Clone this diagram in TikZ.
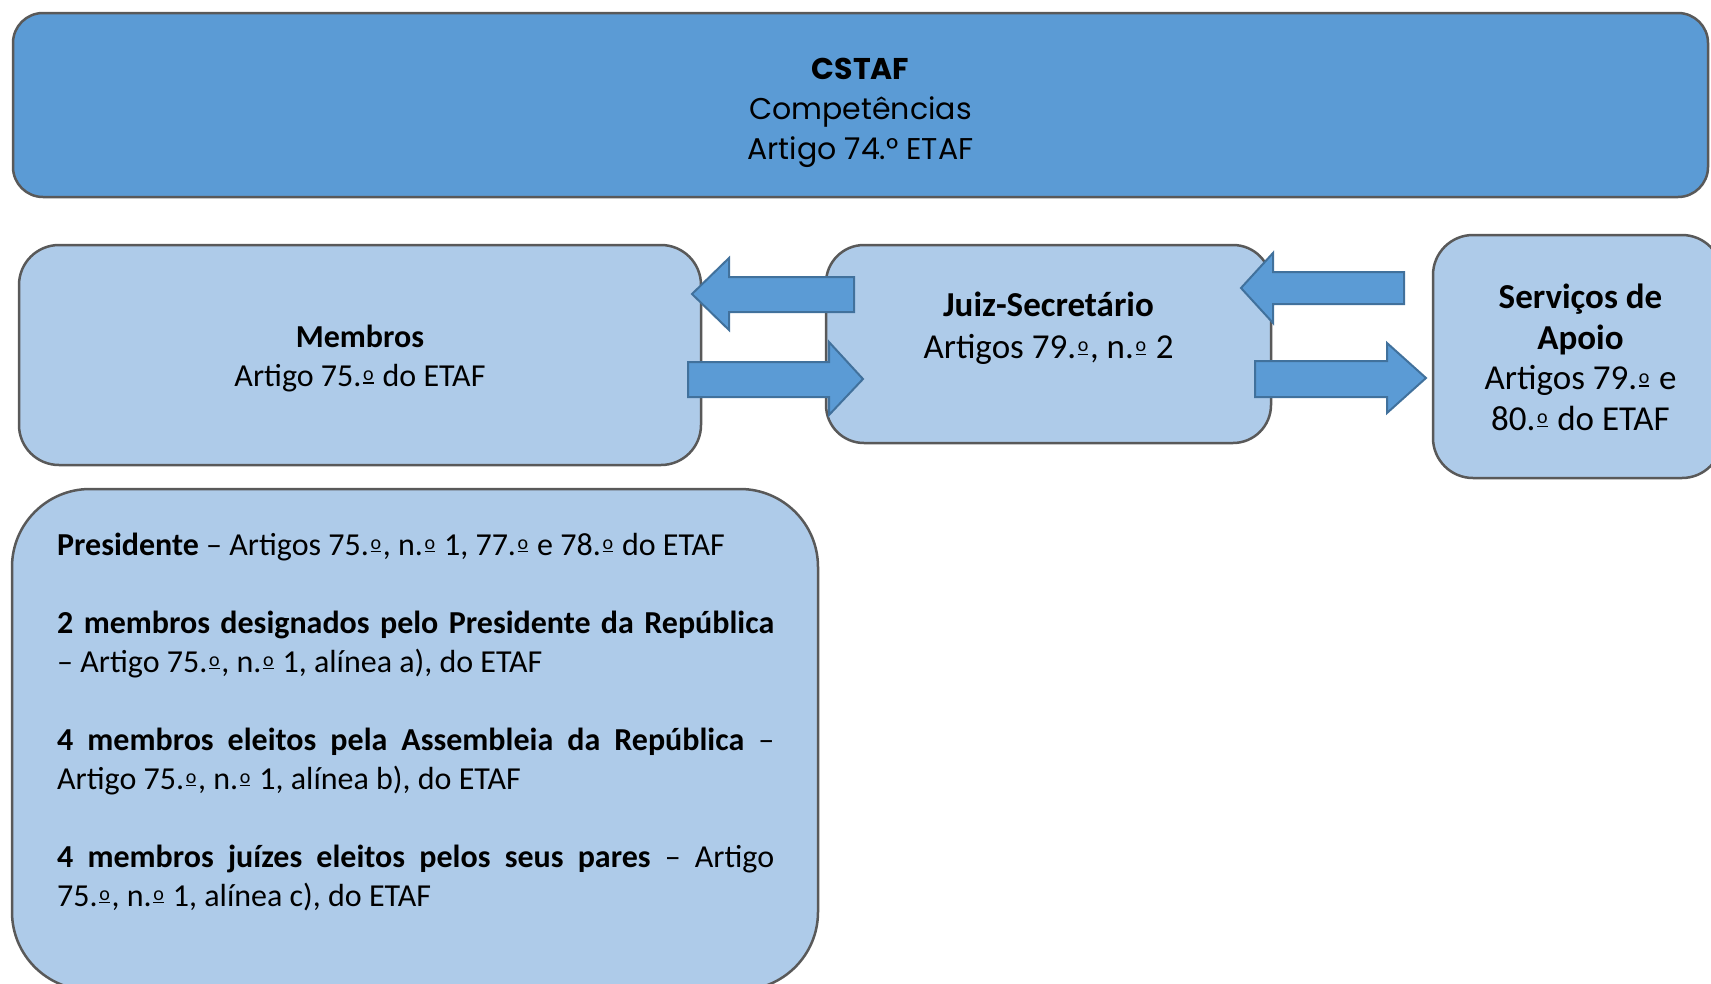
\documentclass[tikz,border=0pt]{standalone}
\usepackage{fontspec}
\setmainfont{Carlito}
\newfontfamily\headfont{Poppins}
\definecolor{darkbox}{HTML}{5B9BD5}
\definecolor{lightbox}{HTML}{AECBE9}
\definecolor{boxline}{HTML}{595959}
\definecolor{arrowline}{HTML}{41719C}
% ordinal sublinhado
\newcommand\ordo{\kern1.7pt\raisebox{3.3pt}{\vbox{\hbox{\fontsize{20}{20}\selectfont o}\kern1.8pt\hrule height 1.4pt}}\kern1.7pt}
\begin{document}
\begin{tikzpicture}[x=1pt,y=-1pt,line join=round,
	box/.style={draw=boxline,line width=2.5pt,fill=lightbox,rounded corners=40pt,inner sep=0pt},
	blockarrow/.style={draw=arrowline,line width=2pt,fill=darkbox,line join=miter},
	txt/.style={font=\fontsize{32}{39}\selectfont,align=center},
	bigtxt/.style={font=\fontsize{35}{42}\selectfont,align=center}]
	\useasboundingbox (0,0) rectangle (1711,983);
	\clip (0,0) rectangle (1711,983);
	% caixas
	\node[box,fill=darkbox,rounded corners=30pt,minimum width=1695pt,minimum height=184pt] (cstaf) at (860.5,105) {};
	\node[font=\headfont\fontsize{30}{40}\selectfont,align=center] (cstaftxt) at ([yshift=-8pt]cstaf.center) {\textbf{CSTAF}\\Competências\\Artigo 74.° ETAF};
	\node[box,minimum width=682pt,minimum height=220pt] (membros) at (360,355) {};
	\node[txt] (membrostxt) at ([yshift=-4pt]membros.center) {\textbf{Membros}\\Artigo 75.\ordo{} do ETAF};
	\node[box,rounded corners=38pt,minimum width=445pt,minimum height=198pt] (juiz) at (1048.5,344) {};
	\node[bigtxt] (juiztxt) at ([yshift=16pt]juiz.center) {\textbf{Juiz-Secretário}\\Artigos 79.\ordo, n.\ordo{} 2};
	\node[box,minimum width=289pt,minimum height=243pt] (servicos) at (1577.5,356.5) {};
	\node[bigtxt,font=\fontsize{35}{40.5}\selectfont] (servicostxt) at ([xshift=3pt,yshift=-1pt]servicos.center) {\textbf{Serviços de}\\\textbf{Apoio}\\Artigos 79.\ordo{} e\\80.\ordo{} do ETAF};
	\node[box,rounded corners=78pt,minimum width=806pt,minimum height=501pt] (composicao) at (415,739.5) {};
	\node[anchor=north west,inner sep=0pt,text width=717pt,align=justify,font=\fontsize{32}{39}\selectfont] (lista) at (57,533) {%
		\textbf{Presidente} – Artigos 75.\ordo, n.\ordo{} 1, 77.\ordo{} e 78.\ordo{} do ETAF\par\vspace{39pt}
		\textbf{2 membros designados pelo Presidente da República}\linebreak – Artigo 75.\ordo, n.\ordo{} 1, alínea a), do ETAF\par\vspace{39pt}
		\textbf{4 membros eleitos pela Assembleia da República} –\linebreak Artigo 75.\ordo, n.\ordo{} 1, alínea b), do ETAF\par\vspace{39pt}
		\textbf{4 membros juízes eleitos pelos seus pares} – Artigo\linebreak 75.\ordo, n.\ordo{} 1, alínea c), do ETAF};
	% setas
	\draw[blockarrow] (692,294)--(729,258)--(729,277)--(854,277)--(854,312)--(729,312)--(729,330)--cycle;
	\draw[blockarrow] (688,362)--(829,362)--(829,342)--(863,379)--(829,415)--(829,397)--(688,397)--cycle;
	\draw[blockarrow] (1241,288)--(1273,253)--(1273,272)--(1404,272)--(1404,304)--(1273,304)--(1273,323)--cycle;
	\draw[blockarrow] (1255,361)--(1387,361)--(1387,343)--(1426,378)--(1387,413)--(1387,397)--(1255,397)--cycle;
\end{tikzpicture}
\end{document}
